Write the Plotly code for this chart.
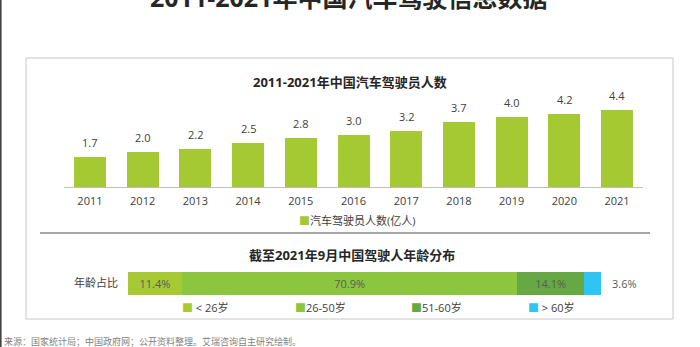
import plotly.graph_objects as go

W, H = 700, 347

years = ["2011", "2012", "2013", "2014", "2015", "2016", "2017", "2018", "2019", "2020", "2021"]
drivers = [1.7, 2.0, 2.2, 2.5, 2.8, 3.0, 3.2, 3.7, 4.0, 4.2, 4.4]

age_groups = ["< 26岁", "26-50岁", "51-60岁", "> 60岁"]
age_share = [11.4, 70.9, 14.1, 3.6]
age_colors = ["#a6c934", "#8cc63f", "#66a844", "#2ec5f2"]
age_row = "年龄占比"

bar_color = "#a5c933"
FONT = "Open Sans, Noto Sans CJK SC, sans-serif"
TXT = "#404040"


def px(x):
    return x / W


def py(y):
    return 1 - y / H


xpos = list(range(len(years)))

fig = go.Figure()

fig.add_trace(go.Bar(
    x=xpos, y=drivers, marker_color=bar_color, marker_line_width=0,
    xaxis="x", yaxis="y", showlegend=False, width=0.607,
    customdata=years, hovertemplate="%{customdata}: %{y}<extra></extra>",
))

for i, (g, v, c) in enumerate(zip(age_groups, age_share, age_colors)):
    fig.add_trace(go.Bar(
        y=[0], x=[v], orientation="h", marker_color=c, marker_line_width=0,
        xaxis="x2", yaxis="y2", showlegend=False, name=g, width=1.0,
        text=[f"{v}%"] if i < 3 else None,
        textposition="inside", insidetextanchor="middle",
        textfont=dict(size=11, color="#5a5a5a", family=FONT),
    ))

annotations = []
# value labels above bars
for xi, v in zip(xpos, drivers):
    annotations.append(dict(x=xi, y=v, xref="x", yref="y", text=f"{v:.1f}",
                            showarrow=False, yanchor="bottom", yshift=5,
                            font=dict(size=11, color=TXT, family=FONT)))
# last segment label outside
annotations.append(dict(x=sum(age_share), y=0, xref="x2", yref="y2",
                        text=f"{age_share[-1]}%", showarrow=False, xanchor="left",
                        xshift=9, font=dict(size=11, color="#5a5a5a", family=FONT)))
# titles
annotations.append(dict(x=px(348), y=1, xref="paper", yref="paper", yshift=3,
                        text="<b>2011-2021年中国汽车驾驶信息数据</b>", showarrow=False,
                        yanchor="middle", font=dict(size=25, color="#262626", family=FONT)))
annotations.append(dict(x=px(350), y=py(82), xref="paper", yref="paper",
                        text="<b>2011-2021年中国汽车驾驶员人数</b>", showarrow=False,
                        yanchor="middle", font=dict(size=13, color="#262626", family=FONT)))
annotations.append(dict(x=px(352), y=py(255), xref="paper", yref="paper",
                        text="<b>截至2021年9月中国驾驶人年龄分布</b>", showarrow=False,
                        yanchor="middle", font=dict(size=13, color="#262626", family=FONT)))
# legend for bar chart
annotations.append(dict(x=px(297), y=py(220), xref="paper", yref="paper",
                        text=f"<span style='color:{bar_color}'>■</span>汽车驾驶员人数(亿人)",
                        showarrow=False, xanchor="left", yanchor="middle",
                        font=dict(size=11, color=TXT, family=FONT)))
# legend for age distribution
leg_x = [180, 293, 409, 526]
for g, c, lx in zip(age_groups, age_colors, leg_x):
    sep = " " if g.startswith(("<", ">")) else ""
    annotations.append(dict(x=px(lx), y=py(307), xref="paper", yref="paper",
                            text=f"<span style='color:{c}'>■</span>{sep}{g}",
                            showarrow=False, xanchor="left", yanchor="middle",
                            font=dict(size=11, color=TXT, family=FONT)))
# source
annotations.append(dict(x=0, y=py(341.5), xref="paper", yref="paper",
                        text="来源：国家统计局；中国政府网；公开资料整理。艾瑞咨询自主研究绘制。",
                        showarrow=False, xanchor="left", yanchor="middle", xshift=2,
                        font=dict(size=9, color="#7f7f7f", family=FONT)))

shapes = [
    dict(type="rect", xref="paper", yref="paper", x0=px(26), x1=px(673), y0=py(319), y1=py(58),
         line=dict(color="#c8c8c8", width=1), layer="below"),
    dict(type="line", xref="paper", yref="paper", x0=px(40), x1=px(650), y0=py(233), y1=py(233),
         line=dict(color="#a6a6a6", width=2)),
    dict(type="line", xref="paper", yref="paper", x0=px(0.8), x1=px(0.8), y0=0, y1=1,
         line=dict(color="#444444", width=1.6)),
]

fig.update_layout(
    width=W, height=H, margin=dict(l=0, r=0, t=0, b=0),
    paper_bgcolor="white", plot_bgcolor="white",
    barmode="stack",
    font=dict(family=FONT, color=TXT, size=11),
    showlegend=False,
    xaxis=dict(domain=[px(63.6), px(643.4)], range=[-0.5, len(years) - 0.5],
               tickmode="array", tickvals=xpos, ticktext=years,
               showline=True, linecolor="#bfbfbf", zeroline=False,
               linewidth=1, ticks="", showgrid=False, tickfont=dict(size=11, color=TXT),
               ticklabelstandoff=4, fixedrange=True),
    yaxis=dict(domain=[py(187), py(99.5)], range=[0, 5], visible=False, fixedrange=True),
    xaxis2=dict(domain=[px(128), px(601)], range=[0, 100], visible=False, anchor="y2", fixedrange=True),
    yaxis2=dict(domain=[py(295), py(272)], range=[-0.5, 0.5], anchor="x2",
                tickmode="array", tickvals=[0], ticktext=[age_row],
                showline=False, showgrid=False, zeroline=False,
                ticks="", tickfont=dict(size=11, color=TXT), ticklabelstandoff=9, fixedrange=True),
    annotations=annotations, shapes=shapes,
)

fig.write_html("out.html")
